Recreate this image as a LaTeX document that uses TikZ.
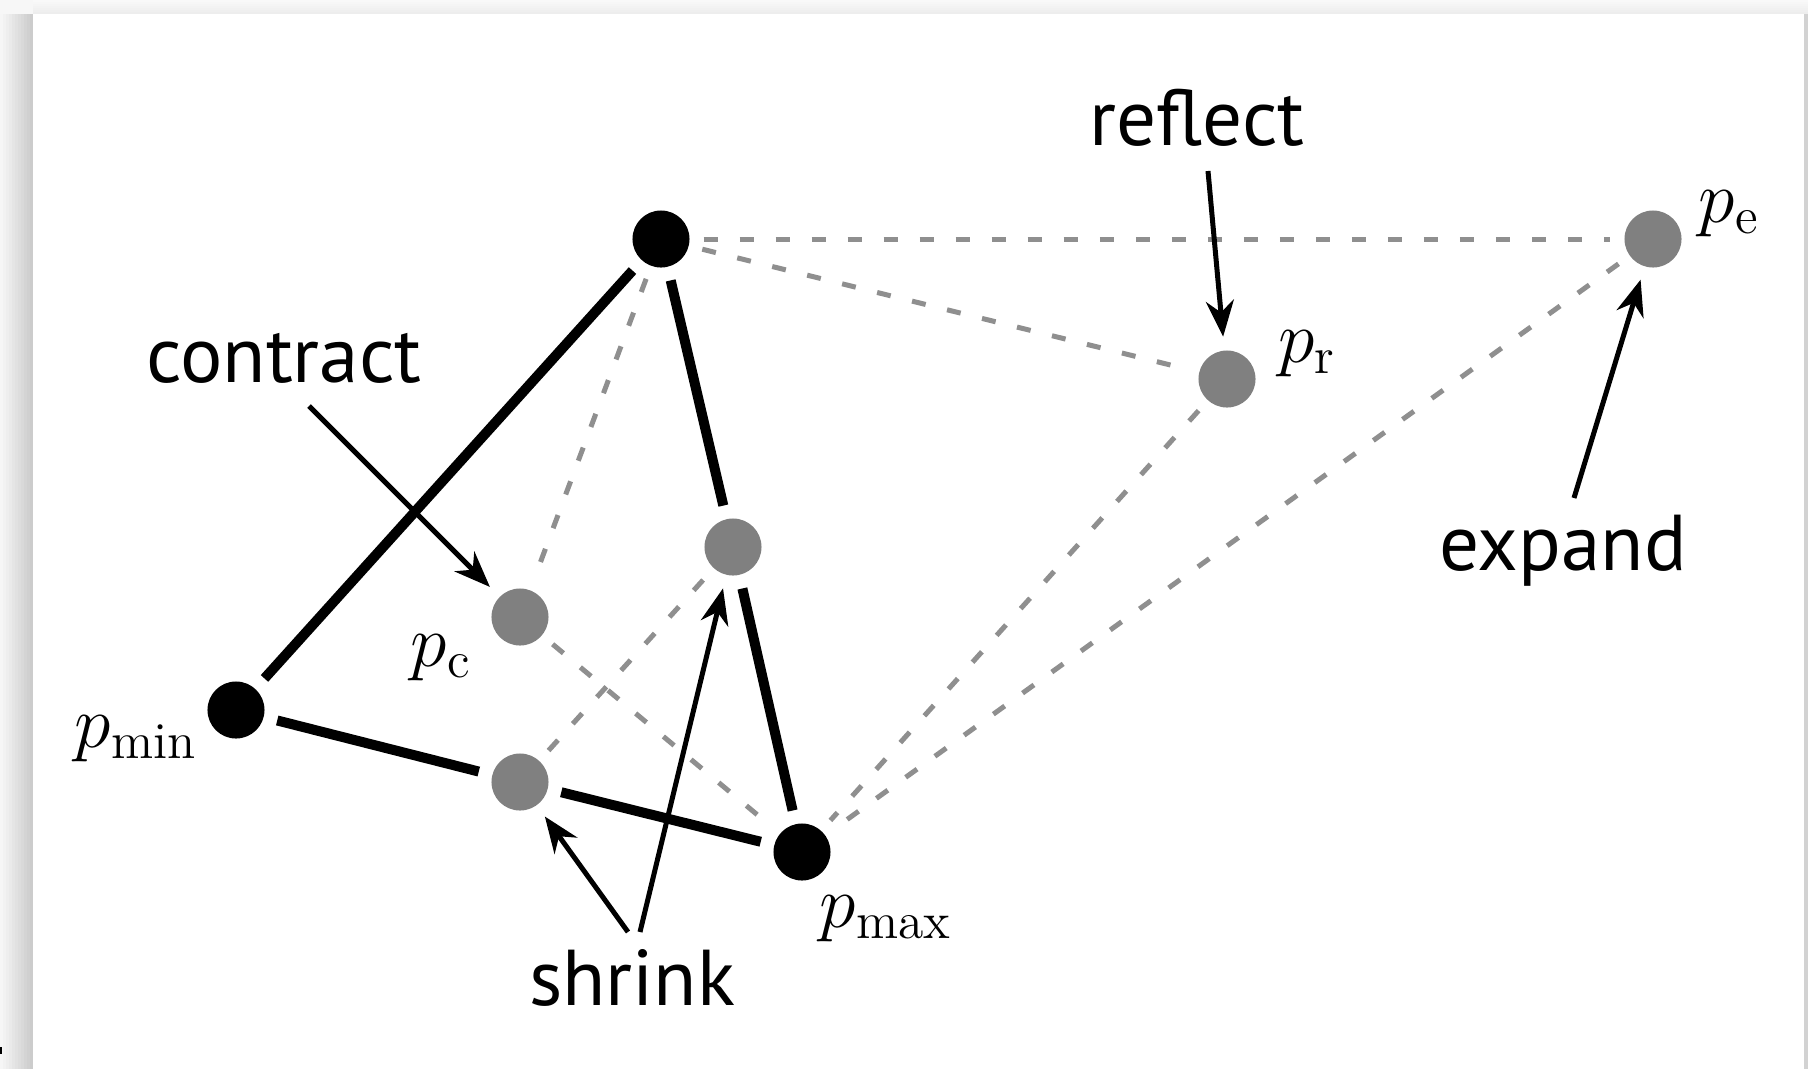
\RequirePackage{fix-cm}
\documentclass[tikz,border=0pt]{standalone}
\usepackage{fontspec}
\setsansfont{PT Sans}
\usetikzlibrary{arrows.meta}
\definecolor{ptgray}{gray}{0.5}
\definecolor{dashgray}{gray}{0.56}
\begin{document}
\begin{tikzpicture}[x=0.01cm,y=-0.01cm,
  blackpt/.style={circle,fill=black,minimum size=0.57cm,inner sep=0pt,outer sep=0.14cm},
  graypt/.style={circle,fill=ptgray,minimum size=0.57cm,inner sep=0pt,outer sep=0.14cm},
  edgeline/.style={line width=0.1cm,black},
  dashline/.style={line width=0.05cm,dashgray,dash pattern=on 0.14cm off 0.22cm},
  arr/.style={line width=0.05cm,-{Stealth[length=0.36cm,width=0.28cm]}},
  word/.style={font=\sffamily\fontsize{22.5}{27}\selectfont,inner sep=0pt,anchor=base},
  mlabel/.style={font=\fontsize{21}{25}\selectfont,inner sep=0pt,anchor=base}
]
\useasboundingbox (0,0) rectangle (1808,1069);
% page and shadow
\fill[gray!6] (0,0) rectangle (1808,1069);
\foreach \i in {0,...,6} {
  \pgfmathsetmacro\c{5+1.5*\i}
  \fill[gray!\c] (33,2*\i) rectangle (1808,2*\i+2);
}
\foreach \i in {0,...,10} {
  \pgfmathsetmacro\c{7+3.3*\i}
  \fill[gray!\c] (3*\i,14) rectangle (3*\i+3,1069);
}
\fill[gray!35] (1804,14) rectangle (1808,1069);
\fill[white] (33,14) rectangle (1804,1069);
\fill[black] (0,1047) rectangle (2,1054);

% points
\node[blackpt] (top) at (661,239) {};
\node[blackpt] (pmin) at (236,710) {};
\node[blackpt] (pmax) at (802,852) {};
\node[graypt] (pc) at (520,617) {};
\node[graypt] (s1) at (733,547) {};
\node[graypt] (s2) at (520,782) {};
\node[graypt] (pr) at (1227,379) {};
\node[graypt] (pe) at (1653,239) {};

% dashed lines
\draw[dashline] (top) -- (pe);
\draw[dashline] (top) -- (pr);
\draw[dashline] (pr) -- (pmax);
\draw[dashline] (pe) -- (pmax);
\draw[dashline] (top) -- (pc);
\draw[dashline] (pc) -- (pmax);
\draw[dashline] (s2) -- (s1);

% solid edges
\draw[edgeline] (top) -- (pmin);
\draw[edgeline] (pmin) -- (s2);
\draw[edgeline] (s2) -- (pmax);
\draw[edgeline] (top) -- (s1);
\draw[edgeline] (s1) -- (pmax);

% labels
\node[mlabel] (lmin) at (136,747) {$p_{\mathrm{min}}$};
\node[mlabel] (lmax) at (886,927) {$p_{\mathrm{max}}$};
\node[mlabel] (lc) at (441,666) {$p_{\mathrm{c}}$};
\node[mlabel] (lr) at (1307,362) {$p_{\mathrm{r}}$};
\node[mlabel] (le) at (1729,222) {$p_{\mathrm{e}}$};

\node[word] (wcontract) at (284,382) {contract};
\node[word] (wreflect) at (1197,145) {reflect};
\node[word] (wexpand) at (1563,570) {expand};
\node[word] (wshrink) at (632,1005) {shrink};

% arrows
\coordinate (ca) at (309,406);
\coordinate (ra) at (1208,171);
\coordinate (ea) at (1574,498);
\coordinate (sa) at (628,932);
\coordinate (sb) at (640,932);
\draw[arr] (ca) -- (pc);
\draw[arr] (ra) -- (pr);
\draw[arr] (ea) -- (pe);
\draw[arr] (sa) -- (s2);
\draw[arr] (sb) -- (s1);
\end{tikzpicture}
\end{document}
